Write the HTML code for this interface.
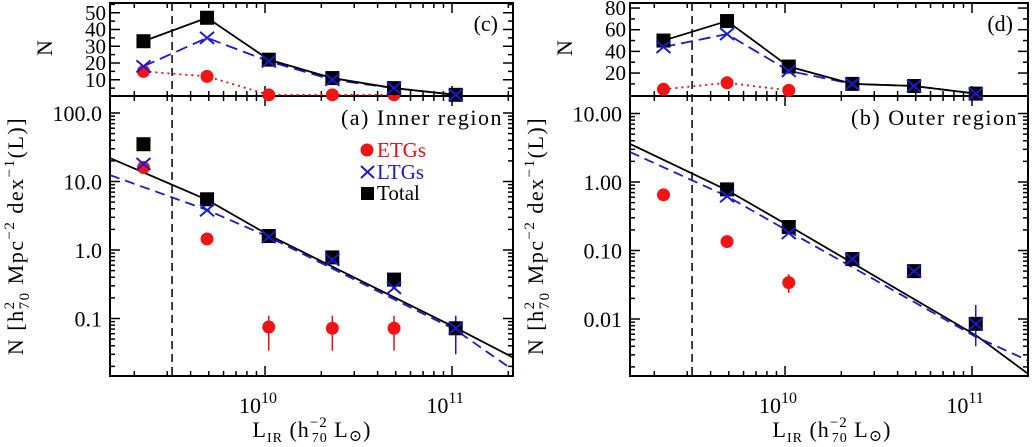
<!DOCTYPE html>
<html><head><meta charset="utf-8"><style>
body{margin:0;background:#fff}
svg text{font-family:"Liberation Serif","DejaVu Serif",serif}
</style></head><body>
<svg id="c" width="1036" height="442" xmlns="http://www.w3.org/2000/svg"></svg>
<script>
const logX = [9.35, 9.69, 10.02, 10.36, 10.69, 11.02];
// Inner region counts (panel c)
const cTotal = [33, 47, 22, 11, 5, 1];
const cLTG = [18, 35, 21, 10, 5, 1];
const cETG = [15, 12, 1, 1, 1];
// Inner region densities (panel a)
const aTotal = [35, 5.5, 1.6, 0.78, 0.37, 0.072];
const aLTG = [18, 3.8, 1.55, 0.72, 0.28, 0.072];
const aETG = [16, 1.45, 0.075, 0.072, 0.072];
const aETGerr = [null, null, [0.034, 0.11], [0.034, 0.11], [0.034, 0.11]];
const aLTGerr = [null, null, null, null, null, [0.03, 0.11]];
// fit curves sampled at fitLogX
const fitLogX = [9.171, 9.69, 10.02, 11.02, 11.326];
const aFitSolid = [22, 5.4, 1.65, 0.073, 0.027];
const aFitDash = [12.4, 3.84, 1.55, 0.068, 0.0177];
// Outer region counts (panel d)
const dTotal = [50, 68, 26, 10, 8, 1];
const dLTG = [44, 56, 22, 10, 8, 1];
const dETG = [5, 11, 4];
// Outer region densities (panel b)
const bTotal = [null, 0.78, 0.22, 0.075, 0.05, 0.0085];
const bLTG = [null, 0.62, 0.18, 0.075, 0.05, 0.0085];
const bETG = [0.65, 0.135, 0.034];
const bETGerr = [null, null, [0.024, 0.045]];
const bLTGerr = [null, null, null, null, [0.04, 0.06], [0.004, 0.016]];
const bFitSolid = [3.6, 0.76, 0.23, 0.0058, 0.0014];
const bFitDash = [2.74, 0.62, 0.19, 0.0055, 0.0023];
const xTickLabels = ["10", "10"];
const cutLog = 9.503;

const svg = document.getElementById('c');
const NS = 'http://www.w3.org/2000/svg';
function el(tag, attrs, parent) {
  const e = document.createElementNS(NS, tag);
  for (const k in attrs) e.setAttribute(k, attrs[k]);
  (parent || svg).appendChild(e);
  return e;
}

function panel(cfg) {
  const g = el('g', {});
  
  
  const L = cfg.x0, R = cfg.x1, T = 3, M = 96, B = 376;
  const xMin = 9.171, pxDec = 187;
  const X = v => L + (v - xMin) * pxDec;
  const xRightLog = xMin + (R - L) / pxDec;
  const Ytop = v => cfg.top0 - v * cfg.topScale;
  const Ybot = v => cfg.bRef - (Math.log10(v) - cfg.bRefLog) * 68.5;
  const cp = el('clipPath', {id: 'clip-' + cfg.name}, g);
  el('rect', {x: L, y: M, width: R - L, height: B - M}, cp);
  const f1 = el('rect', {x: L, y: T, width: R - L, height: M - T, fill: 'none', stroke: '#000', 'stroke-width': 2}, g);
   
  const f2 = el('rect', {x: L, y: M, width: R - L, height: B - M, fill: 'none', stroke: '#000', 'stroke-width': 2}, g);
   
  for (let d = 9; d <= 11; d++) for (let m = 1; m <= 9; m++) {
    const lv = d + Math.log10(m);
    if (lv < xMin || lv > xRightLog) continue;
    const x = X(lv), len = m === 1 ? 10 : 5;
    [T, M].forEach(y => el('line', {x1: x, x2: x, y1: y, y2: y + len, stroke: '#000', 'stroke-width': 1.5}, g));
    [M, B].forEach(y => el('line', {x1: x, x2: x, y1: y, y2: y - len, stroke: '#000', 'stroke-width': 1.5}, g));
    if (m === 1) {
      const t = el('text', {x: x - 7, y: 413, 'font-size': 22, 'text-anchor': 'middle'}, g);
       
      t.textContent = xTickLabels[d - 10];
      const s = el('tspan', {dy: -10, 'font-size': 16}, t); s.textContent = d;
    }
  }
  cfg.topTicks.forEach(v => {
    const y = Ytop(v);
    el('line', {x1: L, x2: L + 10, y1: y, y2: y, stroke: '#000', 'stroke-width': 1.5}, g);
    el('line', {x1: R, x2: R - 10, y1: y, y2: y, stroke: '#000', 'stroke-width': 1.5}, g);
    const t = el('text', {x: L - 4, y: y + 7, 'font-size': 21, 'text-anchor': 'end'}, g);
     
    t.textContent = v;
  });
  cfg.topMinor.forEach(v => {
    const y = Ytop(v);
    el('line', {x1: L, x2: L + 5, y1: y, y2: y, stroke: '#000', 'stroke-width': 1.5}, g);
    el('line', {x1: R, x2: R - 5, y1: y, y2: y, stroke: '#000', 'stroke-width': 1.5}, g);
  });
  for (let d = -5; d <= 3; d++) for (let m = 1; m <= 9; m++) {
    const v = m * Math.pow(10, d), y = Ybot(v);
    if (y < M + 1 || y > B - 1) continue;
    const len = m === 1 ? 10 : 5;
    el('line', {x1: L, x2: L + len, y1: y, y2: y, stroke: '#000', 'stroke-width': 1.5}, g);
    el('line', {x1: R, x2: R - len, y1: y, y2: y, stroke: '#000', 'stroke-width': 1.5}, g);
  }
  cfg.botLabels.forEach(([v, s]) => {
    const t = el('text', {x: L - 8, y: Ybot(v) + 8, 'font-size': 22, 'text-anchor': 'end'}, g);
     
    t.textContent = s;
  });
  const cx = X(cutLog);
  const cl = el('line', {x1: cx, x2: cx, y1: T, y2: B, stroke: '#000', 'stroke-width': 1.5, 'stroke-dasharray': '8,5'}, g);
   
  function fitPath(vals) { return vals.map((v, i) => X(fitLogX[i]) + ',' + Ybot(v)).join(' '); }
  const fs = el('polyline', {points: fitPath(cfg.fitS), fill: 'none', stroke: '#000', 'stroke-width': 1.8, 'clip-path': `url(#clip-${cfg.name})`}, g);
   
  const fd = el('polyline', {points: fitPath(cfg.fitD), fill: 'none', stroke: '#1a1ad0', 'stroke-width': 1.8, 'stroke-dasharray': '10,6', 'clip-path': `url(#clip-${cfg.name})`}, g);
   
  function poly(arr, color, dash, name) {
    const pts = arr.map((v, i) => v == null ? null : X(logX[i]) + ',' + Ytop(v)).filter(Boolean).join(' ');
    const p = el('polyline', {points: pts, fill: 'none', stroke: color, 'stroke-width': 1.8, 'stroke-dasharray': dash}, g);
     
  }
  poly(cfg.cETG, '#e01010', '2,4', 'etg-count-line');
  poly(cfg.cLTG, '#1a1ad0', '12,6', 'ltg-count-line');
  poly(cfg.cTot, '#000', 'none', 'total-count-line');
  function sq(x, y) { const r = el('rect', {x: x - 7, y: y - 7, width: 14, height: 14, fill: '#000'}, g);   }
  function cross(x, y) { const p = el('path', {d: `M${x-7},${y-6}L${x+7},${y+6}M${x-7},${y+6}L${x+7},${y-6}`, stroke: '#1a1ad0', 'stroke-width': 2}, g);   }
  function dot(x, y) { const c = el('circle', {cx: x, cy: y, r: 6.5, fill: '#f01515'}, g);   }
  function err(x, e, color) { if (!e) return; const l = el('line', {x1: x, x2: x, y1: Ybot(e[0]), y2: Ybot(e[1]), stroke: color, 'stroke-width': 1.5}, g);   }
  cfg.cETG.forEach((v, i) => dot(X(logX[i]), Ytop(v)));
  cfg.cTot.forEach((v, i) => sq(X(logX[i]), Ytop(v)));
  cfg.cLTG.forEach((v, i) => cross(X(logX[i]), Ytop(v)));
  cfg.bETGerr.forEach((e, i) => err(X(logX[i]), e, '#e01010'));
  cfg.bLTGerr.forEach((e, i) => err(X(logX[i]), e, '#1a1ad0'));
  cfg.bETG.forEach((v, i) => dot(X(logX[i]), Ybot(v)));
  cfg.bTot.forEach((v, i) => { if (v != null) sq(X(logX[i]), Ybot(v)); });
  cfg.bLTG.forEach((v, i) => { if (v != null) cross(X(logX[i]), Ybot(v)); });
  const tl = el('text', {x: R - 15, y: 31, 'font-size': 22, 'text-anchor': 'end'}, g);
    tl.textContent = cfg.topLabel;
  const bl = el('text', {x: R - 10, y: 125, 'font-size': 22, 'text-anchor': 'end', 'letter-spacing': 1.5}, g);
    bl.textContent = cfg.botLabel;
  const nt = el('text', {x: 0, y: 0, 'font-size': 22, 'text-anchor': 'middle', transform: `translate(${L - 58},${48}) rotate(-90)`}, g);
    nt.textContent = 'N';
  const yt = el('text', {x: 0, y: 0, 'font-size': 22, 'text-anchor': 'middle', transform: `translate(${L - 87},${236}) rotate(-90)`, 'letter-spacing': 1.5}, g);
   
  yt.innerHTML = 'N [h<tspan dy="-9" font-size="15">2</tspan><tspan dy="15" dx="-9" font-size="15">70</tspan><tspan dy="-6">  Mpc</tspan><tspan dy="-9" font-size="15">−2</tspan><tspan dy="9"> dex</tspan><tspan dy="-9" font-size="15">−1</tspan><tspan dy="9">(L)]</tspan>';
  const xt = el('text', {x: L + 202, y: 437, 'font-size': 22, 'text-anchor': 'middle', 'letter-spacing': 1}, g);
   
  xt.innerHTML = 'L<tspan dy="5" font-size="14">IR</tspan><tspan dy="-5">  (h</tspan><tspan dy="-10" font-size="15">−2</tspan><tspan dy="15" dx="-16" font-size="14">70</tspan><tspan dy="-5">   L</tspan><tspan dy="4" font-size="16">⊙</tspan><tspan dy="-4">)</tspan>';
  return {g, X, Ybot};
}

panel({name: 'inner-region-panel', x0: 110, x1: 513, top0: 96.5, topScale: 1.675,
  topTicks: [10, 20, 30, 40, 50], topMinor: [5, 15, 25, 35, 45, 55],
  bRef: 250, bRefLog: 0, botLabels: [[100, '100.0'], [10, '10.0'], [1, '1.0'], [0.1, '0.1']],
  fitS: aFitSolid, fitD: aFitDash, cTot: cTotal, cLTG: cLTG, cETG: cETG,
  bTot: aTotal, bLTG: aLTG, bETG: aETG, bETGerr: aETGerr, bLTGerr: aLTGerr,
  topLabel: '(c)', botLabel: '(a) Inner region'});
panel({name: 'outer-region-panel', x0: 630, x1: 1028, top0: 94.7, topScale: 1.083,
  topTicks: [20, 40, 60, 80], topMinor: [10, 30, 50, 70],
  bRef: 182, bRefLog: 0, botLabels: [[10, '10.00'], [1, '1.00'], [0.1, '0.10'], [0.01, '0.01']],
  fitS: bFitSolid, fitD: bFitDash, cTot: dTotal, cLTG: dLTG, cETG: dETG,
  bTot: bTotal, bLTG: bLTG, bETG: bETG, bETGerr: bETGerr, bLTGerr: bLTGerr,
  topLabel: '(d)', botLabel: '(b) Outer region'});

const lg = el('g', {});
 
el('circle', {cx: 367, cy: 150, r: 6.5, fill: '#f01515'}, lg);
const l1 = el('text', {x: 377, y: 157, 'font-size': 21, fill: '#e01010'}, lg); l1.textContent = 'ETGs';
 
el('path', {d: 'M361,166L374,178M361,178L374,166', stroke: '#1a1ad0', 'stroke-width': 2}, lg);
const l2 = el('text', {x: 377, y: 179, 'font-size': 21, fill: '#1a1ad0'}, lg); l2.textContent = 'LTGs';
 
el('rect', {x: 361, y: 187, width: 13, height: 13, fill: '#000'}, lg);
const l3 = el('text', {x: 377, y: 200, 'font-size': 21}, lg); l3.textContent = 'Total';
 
</script>
</body></html>
